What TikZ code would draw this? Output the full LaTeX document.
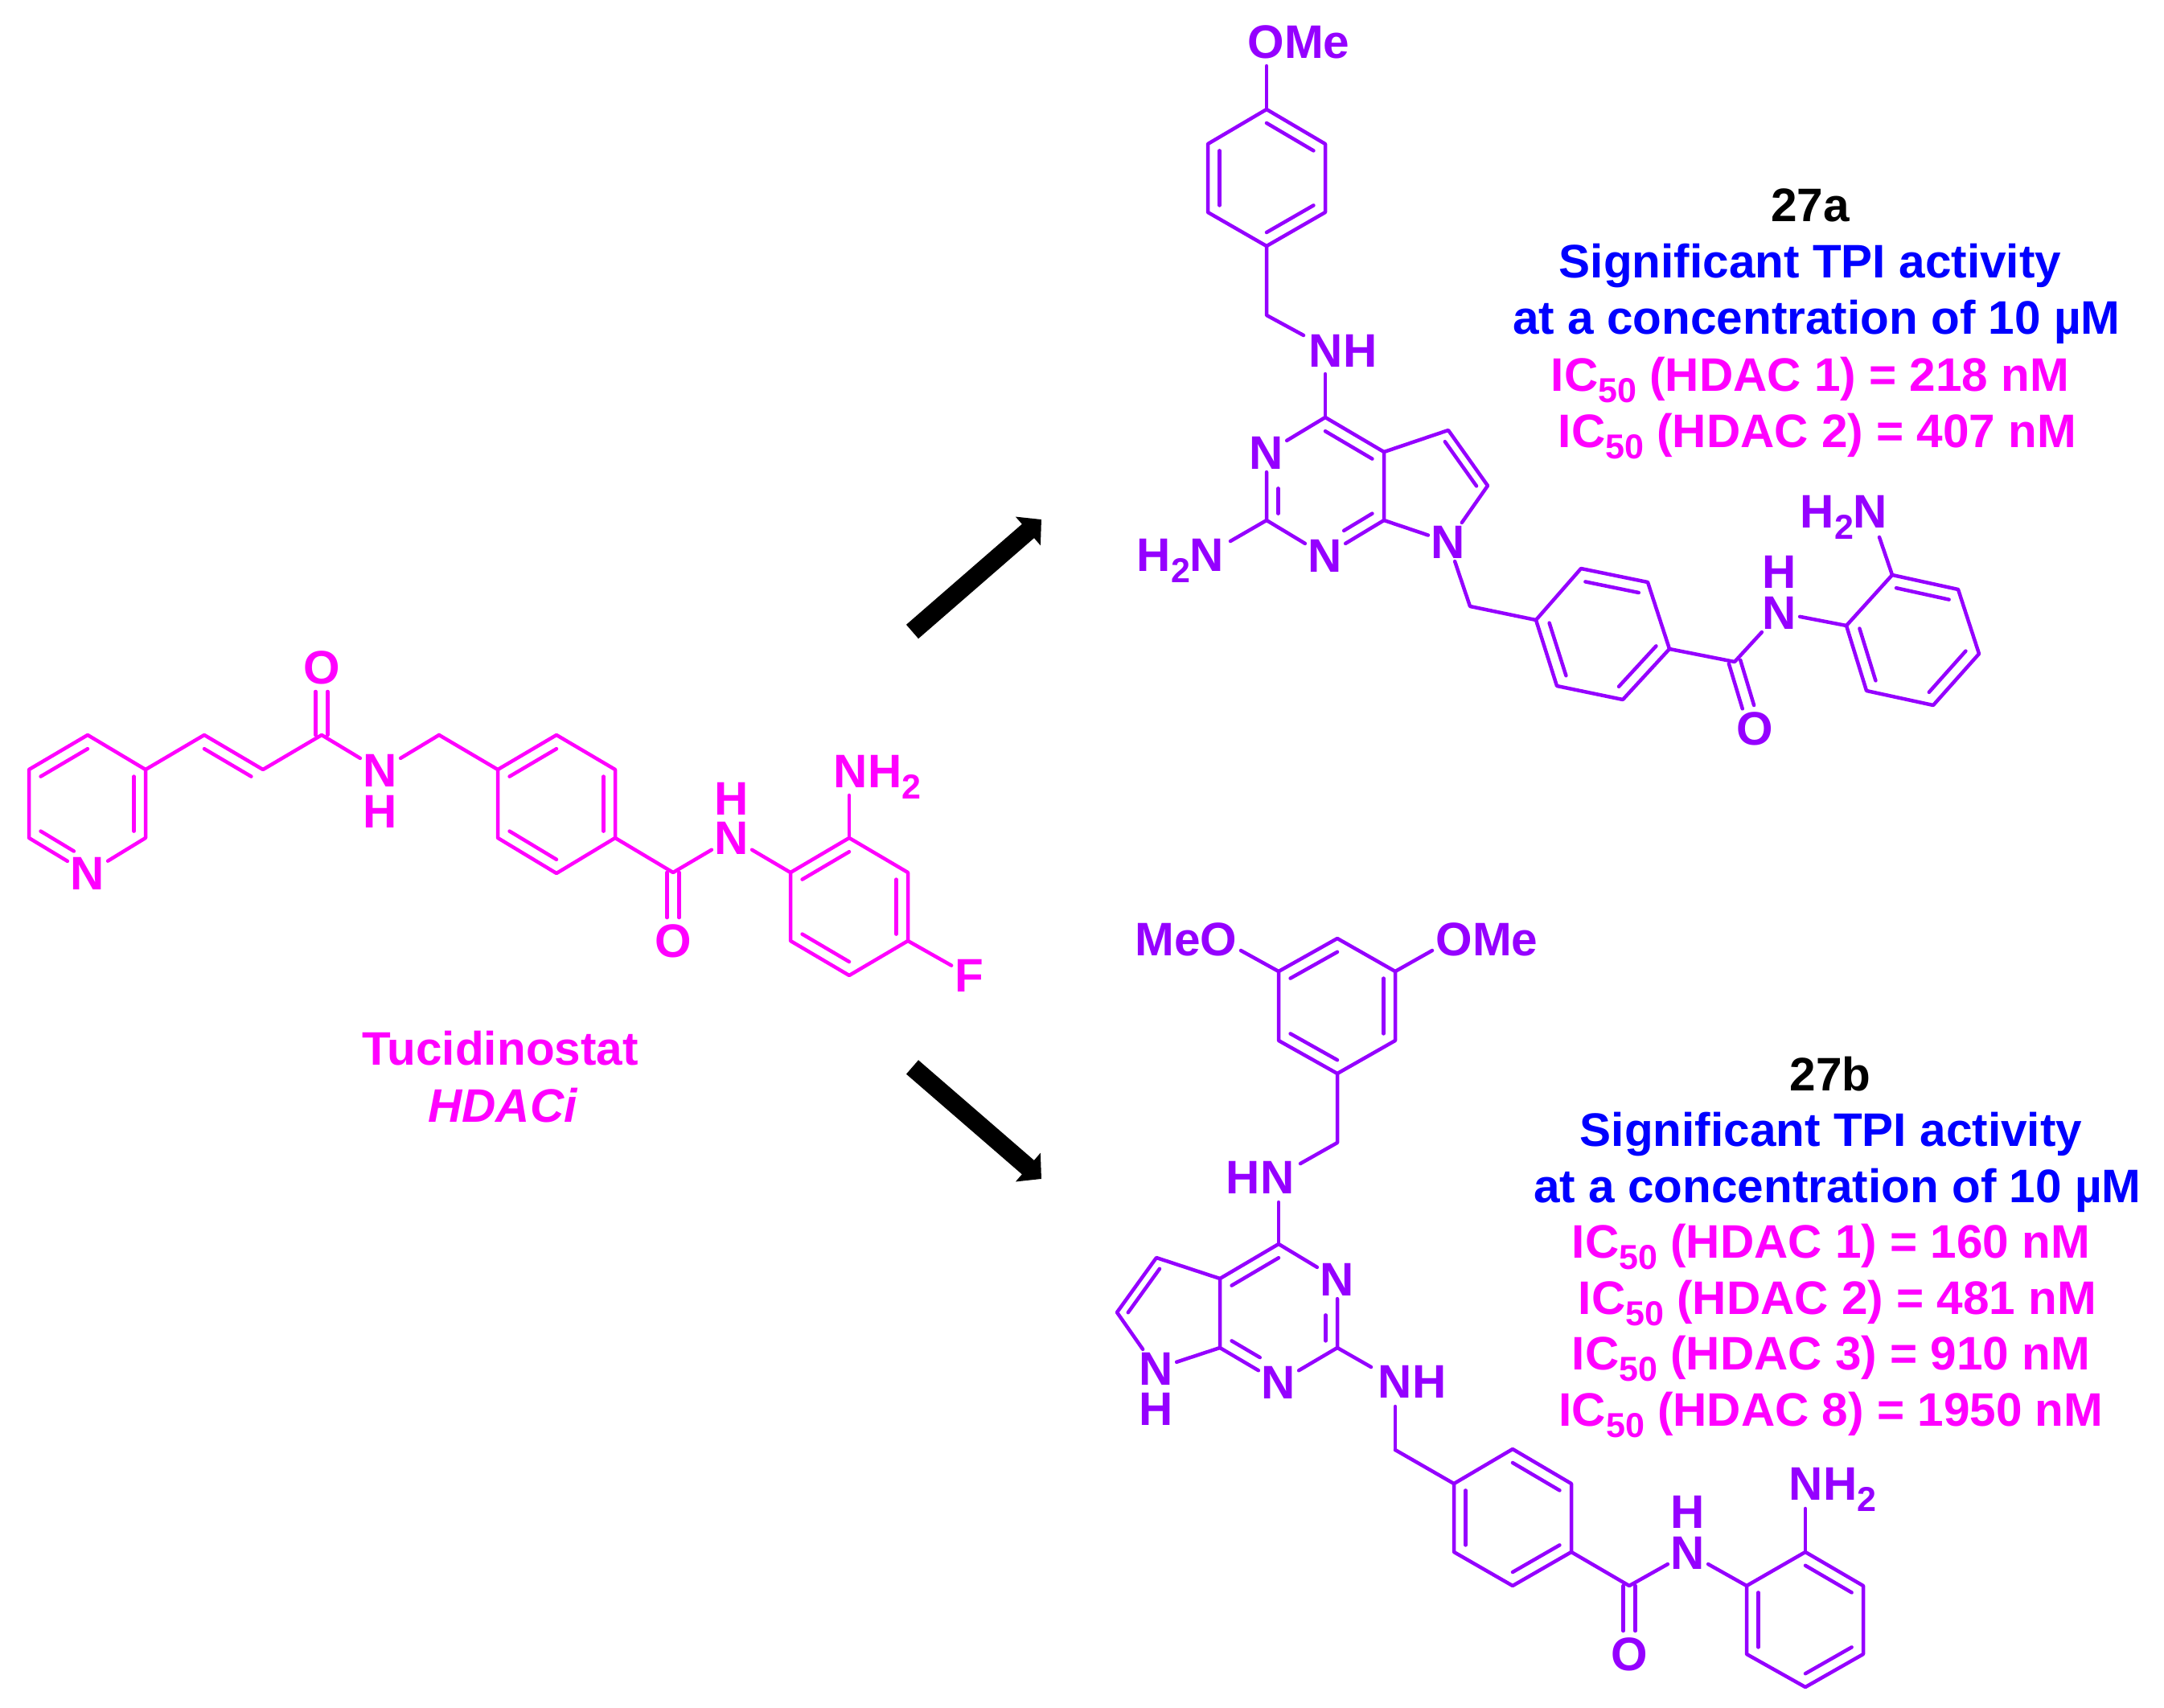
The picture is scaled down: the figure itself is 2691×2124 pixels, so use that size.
\documentclass[tikz,border=0pt]{standalone}
\usepackage{fontspec}
\setmainfont{Liberation Sans}
\usetikzlibrary{calc,arrows.meta}
\definecolor{mag}{HTML}{FF00FF}
\definecolor{pur}{HTML}{9500FF}
\definecolor{blu}{HTML}{0000FF}
\tikzset{
  bond/.style={line width=4.5pt,line cap=round,line join=round},
  atomlabel/.style={font=\fontsize{58.5}{62}\selectfont\bfseries,inner sep=4pt,outer sep=0pt},
  hlabel/.style={font=\fontsize{58.5}{62}\selectfont\bfseries,inner sep=0pt,outer sep=0pt},
  grouplabel/.style={font=\fontsize{58.5}{62}\selectfont\bfseries,inner sep=0pt,anchor=base},
  caption/.style={font=\fontsize{58.5}{62}\selectfont\bfseries,inner sep=0pt,anchor=base},
  bigarrow/.style={line width=23pt,-{Triangle[length=22pt,width=46pt]},black},
}
\newcommand{\sbs}[1]{\raisebox{-14pt}{\fontsize{43}{43}\selectfont #1}}
% inner line of a double bond: ends pulled towards centre #4
\newcommand{\inb}[4][]{\draw[bond,#1] ($(#2)!.2!(#4)$) -- ($(#3)!.2!(#4)$);}
% carbonyl double bond
\newcommand{\cob}[3][29pt]{\draw[bond,shorten >=#1] ($(#2)!7.5pt!90:(#3)$) -- ($(#3)!7.5pt!-90:(#2)$);
  \draw[bond,shorten >=#1] ($(#2)!7.5pt!-90:(#3)$) -- ($(#3)!7.5pt!90:(#2)$);}
\begin{document}
\begin{tikzpicture}[x=1pt,y=-1pt]
\useasboundingbox (0,0) rectangle (2691,2124);
% ---------- arrows
\coordinate (ua0) at (1134.5,785.5);
\coordinate (ua1) at (1295,646);
\coordinate (la0) at (1134.5,1327);
\coordinate (la1) at (1295,1466);
\draw[bigarrow] (ua0) -- (ua1);
\draw[bigarrow] (la0) -- (la1);
% ---------- Tucidinostat
\begin{scope}[color=mag]
\coordinate (p1) at (109,914);
\coordinate (p2) at (181,957);
\coordinate (p3) at (181,1042);
\node[atomlabel] (pN) at (109,1086) {N};
\coordinate (p5) at (36,1042);
\coordinate (p6) at (36,957);
\coordinate (pc) at (109,1000);
\draw[bond] (pN) -- (p3) -- (p2) -- (p1) -- (p6) -- (p5) -- (pN);
\inb{p1}{p6}{pc}
\inb{p2}{p3}{pc}
\inb[shorten >=20pt]{p5}{pN}{pc}
\coordinate (t1) at (254,914);
\coordinate (t2) at (327,957);
\coordinate (tc) at (254,1000);
\coordinate (t3) at (400,914);
\node[atomlabel] (tO1) at (400,830) {O};
\node[atomlabel] (tN1) at (473,958) {N};
\node[hlabel] (tH1) at (473,1009) {H};
\coordinate (t4) at (546,914);
\draw[bond] (p2) -- (t1) -- (t2) -- (t3) -- (tN1) -- (t4);
\inb{t1}{t2}{tc}
\cob[30pt]{t3}{tO1}
\coordinate (r1) at (619,957);
\coordinate (r2) at (692,914);
\coordinate (r3) at (765,957);
\coordinate (r4) at (765,1042);
\coordinate (r5) at (692,1086);
\coordinate (r6) at (619,1042);
\coordinate (rc) at (692,1000);
\draw[bond] (t4) -- (r1);
\draw[bond] (r1) -- (r2) -- (r3) -- (r4) -- (r5) -- (r6) -- cycle;
\inb{r1}{r2}{rc}
\inb{r3}{r4}{rc}
\inb{r5}{r6}{rc}
\coordinate (t5) at (837,1085);
\node[atomlabel] (tO2) at (837,1170) {O};
\node[atomlabel] (tN2) at (910,1042) {N};
\node[hlabel] (tH2) at (910,993) {H};
\coordinate (s1) at (983,1085);
\coordinate (s2) at (1056,1042);
\coordinate (s3) at (1129,1085);
\coordinate (s4) at (1129,1170);
\coordinate (s5) at (1056,1213);
\coordinate (s6) at (983,1170);
\coordinate (sc) at (1056,1128);
\draw[bond] (r4) -- (t5) -- (tN2) -- (s1);
\cob{t5}{tO2}
\draw[bond] (s1) -- (s2) -- (s3) -- (s4) -- (s5) -- (s6) -- cycle;
\inb{s1}{s2}{sc}
\inb{s3}{s4}{sc}
\inb{s5}{s6}{sc}
\node[grouplabel] (tNH2) at (1091,979) {NH\sbs{2}};
\coordinate (tNH2e) at (1056,989);
\draw[bond] (s2) -- (tNH2e);
\node[atomlabel] (tF) at (1205,1213) {F};
\draw[bond] (s4) -- (tF);
\node[caption] (tname) at (622,1324) {Tucidinostat};
\node[caption] (tclass) at (625,1395) {\itshape HDACi};
\end{scope}
% ---------- 27a
\begin{scope}[color=pur]
\node[grouplabel] (aOMe) at (1615,73) {OMe};
\coordinate (aOe) at (1575,82);
\coordinate (q1) at (1575,136);
\coordinate (q2) at (1648,179);
\coordinate (q3) at (1648,264);
\coordinate (q4) at (1575,306);
\coordinate (q5) at (1502,264);
\coordinate (q6) at (1502,179);
\coordinate (qc) at (1575,221);
\draw[bond] (aOe) -- (q1);
\draw[bond] (q1) -- (q2) -- (q3) -- (q4) -- (q5) -- (q6) -- cycle;
\inb{q1}{q2}{qc}
\inb{q3}{q4}{qc}
\inb{q5}{q6}{qc}
\coordinate (aCH) at (1575,392);
\node[grouplabel] (aNH) at (1670,456) {NH};
\coordinate (aNHa) at (1621,417);
\coordinate (aNHb) at (1648,465);
\coordinate (aC4) at (1648,519);
\node[atomlabel] (aN3) at (1575,563) {N};
\coordinate (aC2) at (1575,647);
\node[atomlabel] (aN1) at (1648,691) {N};
\coordinate (aC7) at (1721,647);
\coordinate (aC4a) at (1721,562);
\coordinate (aC5) at (1801,535);
\coordinate (aC6) at (1850,604);
\node[atomlabel] (aN7) at (1801,674) {N};
\coordinate (apc) at (1648,605);
\coordinate (apy) at (1780,606);
\draw[bond] (q4) -- (aCH) -- (aNHa);
\draw[bond] (aNHb) -- (aC4);
\draw[bond] (aC4) -- (aN3) -- (aC2) -- (aN1) -- (aC7) -- (aC4a) -- (aC4);
\draw[bond] (aC4a) -- (aC5) -- (aC6) -- (aN7) -- (aC7);
\inb{aC4}{aC4a}{apc}
\inb[shorten <=36pt]{aN3}{aC2}{apc}
\inb[shorten <=27pt]{aN1}{aC7}{apc}
\inb{aC5}{aC6}{apy}
\node[grouplabel] (aHN2) at (1468,710) {H\sbs{2}N};
\coordinate (aHe) at (1530,673);
\draw[bond] (aC2) -- (aHe);
\coordinate (aCH2) at (1828,754);
\coordinate (b1) at (1910,771);
\coordinate (b2) at (1966,707);
\coordinate (b3) at (2049,724);
\coordinate (b4) at (2076,807);
\coordinate (b5) at (2018,870);
\coordinate (b6) at (1936,853);
\coordinate (bc) at (1993,789);
\draw[bond] (aN7) -- (aCH2) -- (b1);
\draw[bond] (b1) -- (b2) -- (b3) -- (b4) -- (b5) -- (b6) -- cycle;
\inb{b2}{b3}{bc}
\inb{b4}{b5}{bc}
\inb{b6}{b1}{bc}
\coordinate (aCO) at (2157,823);
\node[atomlabel] (aO) at (2182,906) {O};
\node[atomlabel] (aNa) at (2213,762) {N};
\node[hlabel] (aHa) at (2213,711) {H};
\coordinate (c1) at (2296,778);
\coordinate (c2) at (2353,715);
\coordinate (c3) at (2435,733);
\coordinate (c4) at (2461,813);
\coordinate (c5) at (2404,877);
\coordinate (c6) at (2321,859);
\coordinate (cc) at (2378,796);
\draw[bond] (b4) -- (aCO) -- (aNa) -- (c1);
\cob[28pt]{aCO}{aO}
\draw[bond] (c1) -- (c2) -- (c3) -- (c4) -- (c5) -- (c6) -- cycle;
\inb{c2}{c3}{cc}
\inb{c4}{c5}{cc}
\inb{c6}{c1}{cc}
\node[grouplabel] (aH2N) at (2293,656) {H\sbs{2}N};
\coordinate (aH2e) at (2337,668);
\draw[bond] (c2) -- (aH2e);
\end{scope}
% ---------- 27b
\begin{scope}[color=pur]
\node[grouplabel] (bMeO) at (1475,1188) {MeO};
\node[grouplabel] (bOMe) at (1849,1188) {OMe};
\coordinate (bMe) at (1543,1182);
\coordinate (bOe) at (1781,1182);
\coordinate (d1) at (1663,1167);
\coordinate (d2) at (1735,1208);
\coordinate (d3) at (1735,1294);
\coordinate (d4) at (1663,1335);
\coordinate (d5) at (1590,1294);
\coordinate (d6) at (1590,1208);
\coordinate (dc) at (1663,1251);
\draw[bond] (d6) -- (bMe);
\draw[bond] (d2) -- (bOe);
\draw[bond] (d1) -- (d2) -- (d3) -- (d4) -- (d5) -- (d6) -- cycle;
\inb{d6}{d1}{dc}
\inb{d2}{d3}{dc}
\inb{d4}{d5}{dc}
\coordinate (bCH) at (1663,1421);
\node[grouplabel] (bHN) at (1567,1484) {HN};
\coordinate (bHNa) at (1617,1447);
\coordinate (bHNb) at (1590,1495);
\coordinate (bC4) at (1590,1547);
\node[atomlabel] (bN3) at (1663,1591) {N};
\coordinate (bC2) at (1663,1676);
\node[atomlabel] (bN1) at (1590,1719) {N};
\coordinate (bC7) at (1517,1676);
\coordinate (bC4a) at (1517,1590);
\coordinate (bC5) at (1438,1564);
\coordinate (bC6) at (1389,1632);
\node[atomlabel] (bN7) at (1438,1702) {N};
\node[hlabel] (bH7) at (1438,1752) {H};
\coordinate (bpc) at (1590,1633);
\coordinate (bpy) at (1458,1633);
\draw[bond] (d4) -- (bCH) -- (bHNa);
\draw[bond] (bHNb) -- (bC4);
\draw[bond] (bC4) -- (bN3) -- (bC2) -- (bN1) -- (bC7) -- (bC4a) -- (bC4);
\draw[bond] (bC4a) -- (bC5) -- (bC6) -- (bN7) -- (bC7);
\inb{bC4}{bC4a}{bpc}
\inb[shorten <=36pt]{bN3}{bC2}{bpc}
\inb[shorten <=27pt]{bN1}{bC7}{bpc}
\inb{bC5}{bC6}{bpy}
\node[grouplabel] (bNH) at (1756,1738) {NH};
\coordinate (bNHa) at (1705,1700);
\coordinate (bNHb) at (1735,1749);
\coordinate (bCH2) at (1735,1803);
\draw[bond] (bC2) -- (bNHa);
\draw[bond] (bNHb) -- (bCH2);
\coordinate (e1) at (1808,1845);
\coordinate (e2) at (1881,1802);
\coordinate (e3) at (1954,1845);
\coordinate (e4) at (1954,1930);
\coordinate (e5) at (1881,1972);
\coordinate (e6) at (1808,1930);
\coordinate (ec) at (1881,1887);
\draw[bond] (bCH2) -- (e1);
\draw[bond] (e1) -- (e2) -- (e3) -- (e4) -- (e5) -- (e6) -- cycle;
\inb{e2}{e3}{ec}
\inb{e4}{e5}{ec}
\inb{e6}{e1}{ec}
\coordinate (bCO) at (2026,1972);
\node[atomlabel] (bO) at (2026,2057) {O};
\node[atomlabel] (bNa) at (2099,1931) {N};
\node[hlabel] (bHa) at (2099,1880) {H};
\coordinate (f1) at (2172,1972);
\coordinate (f2) at (2245,1930);
\coordinate (f3) at (2317,1972);
\coordinate (f4) at (2317,2057);
\coordinate (f5) at (2245,2098);
\coordinate (f6) at (2172,2057);
\coordinate (fc) at (2245,2014);
\draw[bond] (e4) -- (bCO) -- (bNa) -- (f1);
\cob{bCO}{bO}
\draw[bond] (f1) -- (f2) -- (f3) -- (f4) -- (f5) -- (f6) -- cycle;
\inb{f2}{f3}{fc}
\inb{f4}{f5}{fc}
\inb{f6}{f1}{fc}
\node[grouplabel] (bNH2) at (2279,1865) {NH\sbs{2}};
\coordinate (bNH2e) at (2245,1876);
\draw[bond] (f2) -- (bNH2e);
\end{scope}
% ---------- captions
\node[caption,black] (ta) at (2251,276) {27a};
\node[caption,blu] (ta1) at (2251,346) {Significant TPI activity};
\node[caption,blu] (ta2) at (2259,416) {at a concentration of 10 µM};
\node[caption,mag] (ta3) at (2251,486) {IC\sbs{50} (HDAC 1) = 218 nM};
\node[caption,mag] (ta4) at (2260,556) {IC\sbs{50} (HDAC 2) = 407 nM};
\node[caption,black] (tb) at (2276,1356) {27b};
\node[caption,blu] (tb1) at (2277,1425) {Significant TPI activity};
\node[caption,blu] (tb2) at (2285,1495) {at a concentration of 10 µM};
\node[caption,mag] (tb3) at (2277,1564) {IC\sbs{50} (HDAC 1) = 160 nM};
\node[caption,mag] (tb4) at (2285,1634) {IC\sbs{50} (HDAC 2) = 481 nM};
\node[caption,mag] (tb5) at (2277,1703) {IC\sbs{50} (HDAC 3) = 910 nM};
\node[caption,mag] (tb6) at (2277,1773) {IC\sbs{50} (HDAC 8) = 1950 nM};
\end{tikzpicture}
\end{document}
